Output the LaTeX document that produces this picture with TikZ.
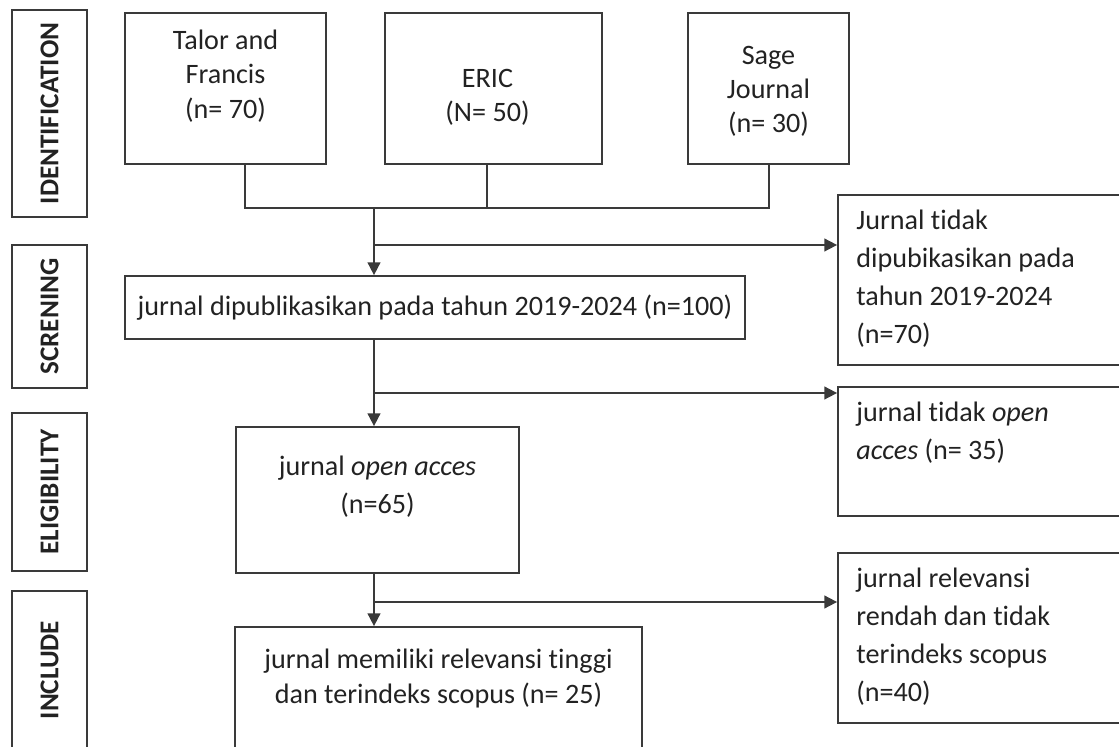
\documentclass[tikz,border=0pt]{standalone}
\usepackage{fontspec}
\setmainfont{Carlito}[Ligatures=NoCommon]
\usetikzlibrary{positioning,arrows.meta}
\definecolor{lineclr}{HTML}{3A3A3A}
\definecolor{textclr}{HTML}{222222}
\tikzset{
  box/.style={draw=lineclr, line width=1.2pt, inner sep=0pt},
  stage/.style={draw=lineclr, line width=1.2pt, rotate=90, minimum height=1.875cm,
    inner sep=0pt, text=textclr, font=\fontsize{19.3}{22}\selectfont\bfseries},
  txt/.style={inner sep=0pt, text=textclr, align=center, font=\fontsize{20}{24.2}\selectfont},
  sidetxt/.style={inner sep=0pt, text=textclr, align=left, font=\fontsize{20}{27}\selectfont},
  link/.style={draw=lineclr, line width=1.2pt},
  arr/.style={link, -{Triangle[length=9pt, width=9pt]}}
}
\begin{document}
\begin{tikzpicture}[x=0.025cm, y=-0.025cm]
\useasboundingbox (0,0) rectangle (1119,747);

\node[stage, minimum width=5.175cm] (ident) at (49.5,113.5) {IDENTIFICATION};
\node[stage, minimum width=3.575cm] (scren) at (49.5,316.5) {SCRENING};
\node[stage, minimum width=3.95cm] (eligi) at (49.5,492) {ELIGIBILITY};
\node[stage, minimum width=3.95cm] (inclu) at (49.5,670) {INCLUDE};

\node[box, minimum width=5.025cm, minimum height=3.775cm] (talor) at (225.5,88.5) {};
\node[box, minimum width=5.425cm, minimum height=3.775cm] (eric) at (493.5,88.5) {};
\node[box, minimum width=4.025cm, minimum height=3.775cm] (sage) at (768.5,88.5) {};
\node[txt, below=0.45cm of talor.north] (talortxt) {Talor and\\Francis\\(n= 70)};
\node[txt, below=1.42cm of eric.north, xshift=-0.15cm] (erictxt) {ERIC\\(N= 50)};
\node[txt, below=0.85cm of sage.north] (sagetxt) {Sage\\Journal\\(n= 30)};

\node[box, minimum width=15.5cm, minimum height=1.575cm, text=textclr,
  font=\fontsize{20}{24}\selectfont] (screen) at (435,307.5)
  {jurnal dipublikasikan pada tahun 2019-2024 (n=100)};
\node[box, minimum width=7.075cm, minimum height=3.65cm] (elig) at (377.5,500) {};
\node[txt, below=0.75cm of elig.north, font=\fontsize{20}{27}\selectfont] (eligtxt)
  {jurnal \textit{open acces}\\(n=65)};
\node[box, minimum width=10.175cm, minimum height=3.325cm] (incl) at (438.5,693.5) {};
\node[txt, below=0.575cm of incl.north, font=\fontsize{20}{24.5}\selectfont] (incltxt)
  {jurnal memiliki relevansi tinggi\\dan terindeks scopus (n= 25)};

\node[box, minimum width=7.425cm, minimum height=4.25cm] (tidak1) at (986.5,280) {};
\node[sidetxt, below right=0.4cm and 0.475cm of tidak1.north west] (tidak1txt)
  {Jurnal tidak\\dipubikasikan pada\\tahun 2019-2024\\(n=70)};
\node[box, minimum width=7.425cm, minimum height=3.225cm] (tidak2) at (986.5,451.5) {};
\node[sidetxt, below right=0.4cm and 0.475cm of tidak2.north west] (tidak2txt)
  {jurnal tidak \textit{open}\\\textit{acces} (n= 35)};
\node[box, minimum width=7.425cm, minimum height=4.25cm] (relev) at (986.5,638) {};
\node[sidetxt, below right=0.4cm and 0.475cm of relev.north west] (relevtxt)
  {jurnal relevansi\\rendah dan tidak\\terindeks scopus\\(n=40)};

\coordinate (jL) at (245,208);
\coordinate (jE) at (487,208);
\coordinate (jR) at (769,208);
\coordinate (jM) at (374,208);
\coordinate (b1) at (374,245);
\coordinate (b2) at (374,393);
\coordinate (b3) at (374,602);

\draw[link] (talor.south -| jL) -- (jL) -- (jR) -- (sage.south -| jR);
\draw[link] (eric.south -| jE) -- (jE);
\draw[arr] (jM) -- (jM |- screen.north);
\draw[arr] (b1) -- (b1 -| tidak1.west);
\draw[arr] (screen.south -| jM) -- (jM |- elig.north);
\draw[arr] (b2) -- (b2 -| tidak2.west);
\draw[arr] (elig.south -| jM) -- (jM |- incl.north);
\draw[arr] (b3) -- (b3 -| relev.west);
\end{tikzpicture}
\end{document}
